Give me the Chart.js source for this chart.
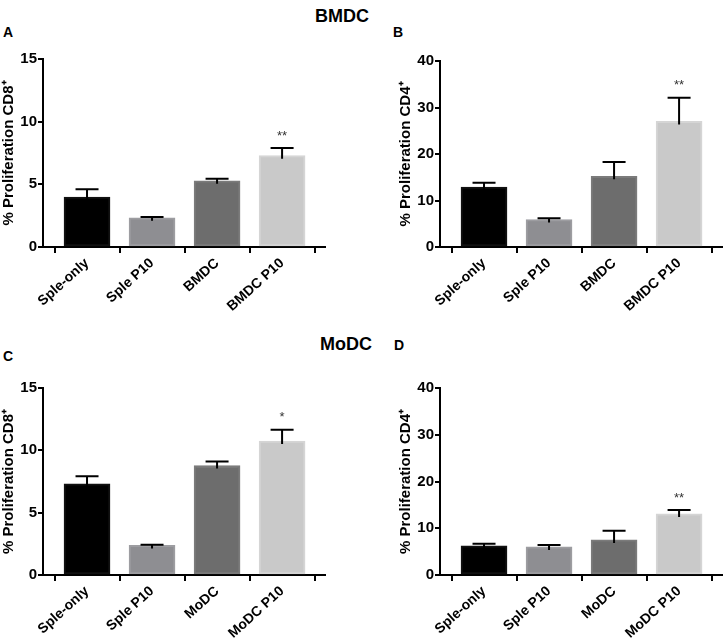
<!DOCTYPE html>
<html>
<head>
<meta charset="utf-8">
<script src="https://cdn.jsdelivr.net/npm/chart.js@4.4.1/dist/chart.umd.min.js"></script>
<style>
  body { margin: 0; background: #fff; }
  #wrap { position: relative; width: 724px; height: 641px; font-family: 'Liberation Sans', Arial, sans-serif; }
  .box { position: absolute; width: 362px; height: 320px; }
  .txt { position: absolute; font-weight: bold; color: #000; line-height: 1; }
  .head { font-size: 18px; }
  .letter { font-size: 14px; }
</style>
</head>
<body>
<div id="wrap">
  <div class="txt head" style="left:315px; top:7px;">BMDC</div>
  <div class="txt head" style="left:320px; top:335px;">MoDC</div>
  <div class="txt letter" style="left:3px; top:25px;">A</div>
  <div class="txt letter" style="left:393px; top:25px;">B</div>
  <div class="txt letter" style="left:3px; top:349px;">C</div>
  <div class="txt letter" style="left:394px; top:338px;">D</div>
  <div class="box" style="left:0; top:0;"><canvas id="chartA" width="362" height="320"></canvas></div>
  <div class="box" style="left:362px; top:0;"><canvas id="chartB" width="362" height="320"></canvas></div>
  <div class="box" style="left:0; top:320px;"><canvas id="chartC" width="362" height="320"></canvas></div>
  <div class="box" style="left:362px; top:320px;"><canvas id="chartD" width="362" height="320"></canvas></div>
</div>
<script>
const labelsBMDC = ['Sple-only', 'Sple P10', 'BMDC', 'BMDC P10'];
const labelsMoDC = ['Sple-only', 'Sple P10', 'MoDC', 'MoDC P10'];

const meanA = [3.98, 2.33, 5.28, 7.29];
const errA  = [0.62, 0.07, 0.16, 0.61];
const starsA = ['', '', '', '**'];

const meanB = [12.9, 5.9, 15.2, 27.0];
const errB  = [0.9, 0.3, 3.1, 5.1];
const starsB = ['', '', '', '**'];

const meanC = [7.31, 2.37, 8.78, 10.74];
const errC  = [0.62, 0.05, 0.32, 0.91];
const starsC = ['', '', '', '*'];

const meanD = [6.25, 6.0, 7.5, 13.07];
const errD  = [0.45, 0.4, 1.95, 0.85];
const starsD = ['', '', '', '**'];

const titleCD8 = '% Proliferation CD8\u207A';
const titleCD4 = '% Proliferation CD4\u207A';

const barColors  = ['#000000', '#8e8e92', '#6d6d6d', '#c9c9c9'];
const edgeColors = ['#111111', '#9d9da1', '#7b7b7b', '#d5d5d5'];

const fontFam = "'Liberation Sans', Arial, sans-serif";

const errorBars = {
    id: 'errorBars',
    afterDatasetsDraw(chart, args, opts) {
        const ctx = chart.ctx;
        const xs = chart.scales.x, ys = chart.scales.y;
        ctx.save();
        ctx.strokeStyle = '#000';
        ctx.lineWidth = 2;
        opts.mean.forEach((m, i) => {
            const x = xs.getPixelForValue(i);
            const y0 = ys.getPixelForValue(m) + 3;
            const y1 = ys.getPixelForValue(m + opts.err[i]);
            ctx.beginPath();
            ctx.moveTo(x, y0);
            ctx.lineTo(x, y1);
            ctx.moveTo(x - 11.5, y1);
            ctx.lineTo(x + 11.5, y1);
            ctx.stroke();
            if (opts.stars[i]) {
                ctx.fillStyle = '#333';
                ctx.font = '13px ' + fontFam;
                ctx.textAlign = 'center';
                ctx.textBaseline = 'middle';
                ctx.fillText(opts.stars[i], x, y1 - 12);
            }
        });
        ctx.restore();
    }
};

function makeChart(id, labels, mean, err, stars, yMax, yStep, yTitle, padLeft, padRight, padTop, xHeight) {
    new Chart(document.getElementById(id), {
        type: 'bar',
        data: {
            datasets: [{
                data: mean.map((v, i) => ({ x: i, y: v })),
                backgroundColor: barColors,
                borderColor: edgeColors,
                borderWidth: 2,
                borderSkipped: false,
                barThickness: 46
            }]
        },
        options: {
            responsive: false,
            animation: false,
            layout: { padding: { left: padLeft, right: padRight, top: padTop, bottom: 0 } },
            plugins: {
                legend: { display: false },
                tooltip: { enabled: false },
                errorBars: { mean: mean, err: err, stars: stars }
            },
            scales: {
                x: {
                    type: 'linear',
                    min: -0.677,
                    max: 3.66,
                    offset: false,
                    afterBuildTicks: s => { s.ticks = labels.map((_, i) => ({ value: i })); },
                    afterFit: s => { s.height = xHeight; },
                    border: { display: true, color: '#000', width: 2 },
                    grid: { display: true, drawOnChartArea: false, drawTicks: true, tickLength: 6, color: '#000', lineWidth: 2 },
                    ticks: {
                        autoSkip: false,
                        minRotation: 42,
                        maxRotation: 42,
                        padding: 2,
                        color: '#000',
                        font: { family: fontFam, size: 14, weight: 'bold' },
                        callback: v => labels[v]
                    }
                },
                y: {
                    min: 0,
                    max: yMax,
                    afterFit: s => { s.width = 43; },
                    border: { display: true, color: '#000', width: 2 },
                    grid: { display: true, drawOnChartArea: false, drawTicks: true, tickLength: 5, color: '#000', lineWidth: 2 },
                    ticks: {
                        stepSize: yStep,
                        padding: 1,
                        color: '#000',
                        font: { family: fontFam, size: 15, weight: 'bold' }
                    },
                    title: {
                        display: true,
                        text: yTitle,
                        color: '#000',
                        padding: { top: 0, bottom: 0 },
                        font: { family: fontFam, size: 15, weight: 'bold' }
                    }
                }
            }
        },
        plugins: [errorBars]
    });
}

makeChart('chartA', labelsBMDC, meanA, errA, starsA, 15, 5, titleCD8, 0, 37, 59, 73);
makeChart('chartB', labelsBMDC, meanB, errB, starsB, 40, 10, titleCD4, 35, 2, 61, 73);
makeChart('chartC', labelsMoDC, meanC, errC, starsC, 15, 5, titleCD8, 0, 37, 68, 65);
makeChart('chartD', labelsMoDC, meanD, errD, starsD, 40, 10, titleCD4, 35, 2, 68, 65);
</script>
</body>
</html>
